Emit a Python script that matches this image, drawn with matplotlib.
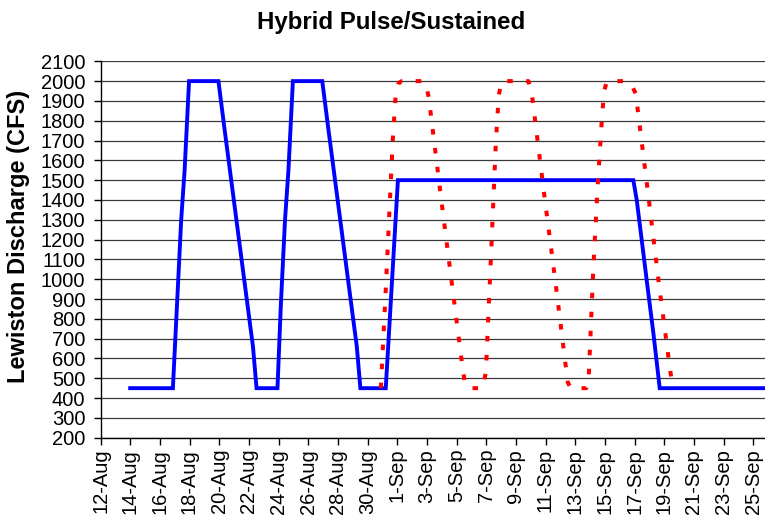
import matplotlib
matplotlib.use("Agg")
import matplotlib.pyplot as plt

plt.rcParams['font.family'] = ['Liberation Sans', 'DejaVu Sans']
plt.rcParams['lines.scale_dashes'] = False

# x values are days after 12-Aug
tick_labels = ["12-Aug", "14-Aug", "16-Aug", "18-Aug", "20-Aug", "22-Aug", "24-Aug",
               "26-Aug", "28-Aug", "30-Aug", "1-Sep", "3-Sep", "5-Sep", "7-Sep",
               "9-Sep", "11-Sep", "13-Sep", "15-Sep", "17-Sep", "19-Sep", "21-Sep",
               "23-Sep", "25-Sep"]
tick_days = [0, 2, 4, 6, 8, 10, 12, 14, 16, 18, 20, 22, 24, 26, 28, 30, 32, 34,
             36, 38, 40, 42, 44]

hybrid_days = [2, 4.88, 5.17, 5.44, 5.67, 5.97, 7.95, 8.37, 8.93, 9.72, 10.28,
               10.52, 11.93, 12.17, 12.44, 12.67, 12.97, 14.95, 15.37, 15.93,
               16.72, 17.28, 17.52, 19.23, 20.05, 35.92, 36.15, 36.6, 36.93,
               37.27, 37.7, 45]
hybrid_cfs = [450, 450, 890, 1300, 1550, 2000, 2000, 1753, 1433, 979, 659, 450,
              450, 890, 1300, 1550, 2000, 2000, 1753, 1433, 979, 659, 450, 450,
              1500, 1500, 1400, 1130, 930, 730, 450, 450]

pulse_days = [18.9, 19.2, 19.45, 19.7, 19.9, 20.1, 20.3, 21.8, 22.0, 22.13, 22.92,
              23.73, 24.45, 24.6, 24.8, 25.75, 25.98, 26.32, 26.65, 26.85, 27.05,
              28.85, 29.05, 29.17, 29.96, 30.63, 31.3, 31.5, 31.7, 32.75, 32.9,
              33.22, 33.5, 33.81, 33.95, 34.15, 35.45, 35.8, 36.08, 36.88, 37.65,
              38.3, 38.5, 38.7]
pulse_cfs = [450, 900, 1300, 1700, 1930, 1990, 2000, 2000, 1960, 1918, 1433, 953,
             530, 470, 450, 450, 529, 1108, 1686, 1930, 2000, 2000, 1950, 1880,
             1400, 1010, 600, 480, 450, 450, 480, 1050, 1450, 1820, 1950, 2000,
             2000, 1980, 1938, 1455, 974, 600, 490, 450]

W, H = 765, 519
fig = plt.figure(figsize=(W / 100, H / 100), dpi=100)
left, right, top, bottom = 100.5, 768, 61.3, 437.7
ax = fig.add_axes([left / W, 1 - bottom / H, (right - left) / W, (bottom - top) / H])

ax.plot(hybrid_days, hybrid_cfs, color='#0000FF', lw=2.8, solid_joinstyle='miter',
        zorder=3)
ax.plot(pulse_days, pulse_cfs, color='#FF0000', lw=2.9, dashes=(4.0, 9.7),
        dash_capstyle='butt', zorder=4)

ax.set_xlim(0, 45)
ax.set_ylim(200, 2100)
ax.set_yticks(range(200, 2101, 100))
ax.set_xticks(tick_days)
ax.set_xticklabels(tick_labels, rotation=90, fontsize=14.5)
ax.tick_params(axis='y', labelsize=14.5, length=5, width=1, direction='out', pad=6)
ax.tick_params(axis='x', length=5, width=1, direction='out', pad=3)
ax.grid(axis='y', color='#3a3a3a', lw=0.9, zorder=1)
ax.set_axisbelow(True)
for s in ['top', 'right']:
    ax.spines[s].set_visible(False)
for s in ['left', 'bottom']:
    ax.spines[s].set_color('black')
    ax.spines[s].set_linewidth(1)

fig.text(391 / W, 1 - 23 / H, "Hybrid Pulse/Sustained", ha='center', va='center',
         fontsize=17.3, fontweight='bold')
fig.text(19 / W, 1 - 236 / H, "Lewiston Discharge (CFS)", ha='center', va='center',
         rotation=90, fontsize=17, fontweight='bold')

fig.savefig("out.png", dpi=100)
